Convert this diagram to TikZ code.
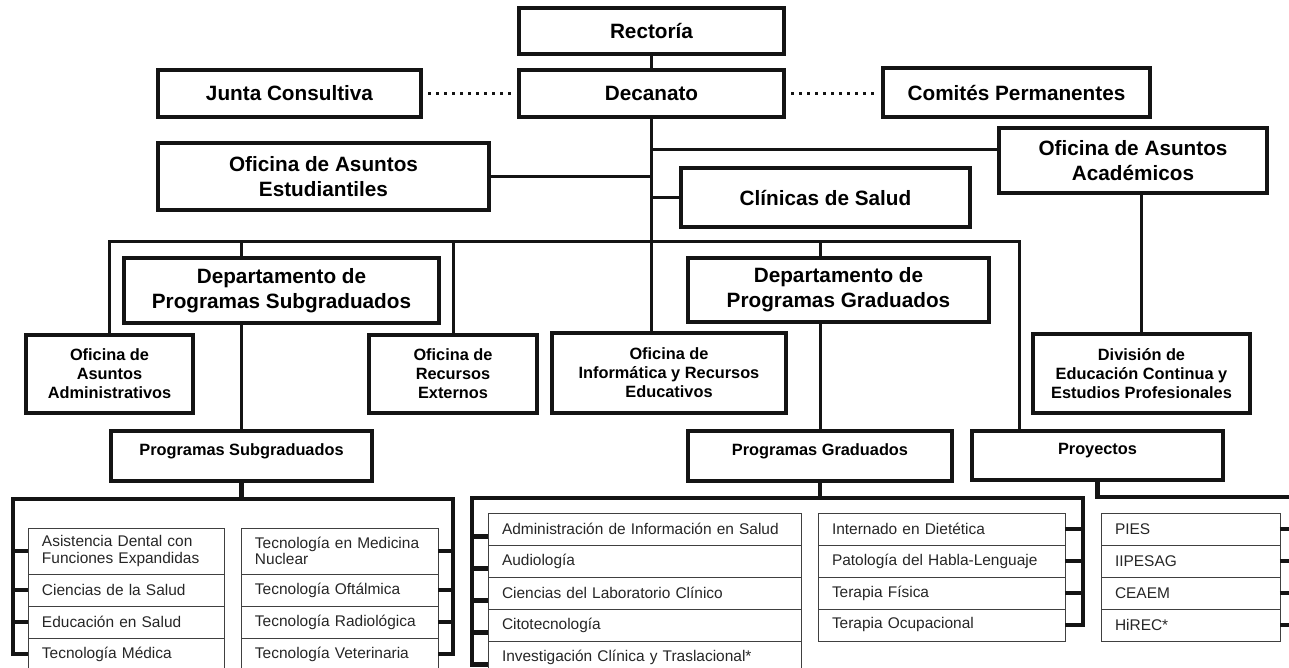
\documentclass[tikz,border=0pt]{standalone}
\usepackage{fontspec}
\setmainfont{Liberation Sans}
\usetikzlibrary{positioning}
\definecolor{boxline}{gray}{0.08}
\definecolor{cellline}{gray}{0.25}
\definecolor{celltext}{gray}{0.15}

\newcommand{\bigfont}{\bfseries\fontsize{11.8}{14.2}\selectfont}
\newcommand{\smallfont}{\bfseries\fontsize{9.3}{10.8}\selectfont}
\newcommand{\cellfont}{\fontsize{8.8}{9.4}\selectfont}

\begin{document}
\begin{tikzpicture}[x=0.02cm, y=-0.02cm,
		unit/.style={draw=boxline, line width=0.09cm, align=center, inner sep=0pt, font=\bigfont},
		office/.style={unit, font=\smallfont},
		program/.style={unit, font=\smallfont, text depth=0.25cm},
		link/.style={draw=boxline, line width=0.06cm},
		bracket/.style={draw=boxline, line width=0.09cm},
		dots/.style={draw=boxline, line width=0.06cm, dash pattern=on 0.06cm off 0.1cm, shorten <=0.1cm, shorten >=0.1cm},
		cell/.style={draw=cellline, line width=0.5pt, outer sep=0pt, inner xsep=0.28cm, inner ysep=1pt, align=left, text=celltext, font=\cellfont, minimum height=0.64cm}]

			\clip (0,0) rectangle (1289,667);

			% direccion
			\node[unit, minimum width=5.30cm, minimum height=0.92cm] (rect) at (651.5,31) {Rectoría};
			\node[unit, minimum width=5.30cm, minimum height=0.94cm] (dec) at (651.5,93.5) {Decanato};
			\node[unit, minimum width=5.26cm, minimum height=0.94cm] (junta) at (289.5,93.5) {Junta Consultiva};
			\node[unit, minimum width=5.34cm, minimum height=0.98cm] (comites) at (1016.5,92.5) {Comités Permanentes};

			\node[unit, minimum width=6.62cm, minimum height=1.34cm] (oae) at (323.5,176.5) {Oficina de Asuntos\\Estudiantiles};
			\node[unit, minimum width=5.36cm, minimum height=1.30cm] (oaa) at (1133,160.5) {Oficina de Asuntos\\Académicos};
			\node[unit, minimum width=5.78cm, minimum height=1.18cm] (clin) at (825.5,197.5) {Clínicas de Salud};

			% departamentos y oficinas
			\node[unit, minimum width=6.30cm, minimum height=1.30cm] (dps) at (281.5,290.5) {Departamento de\\Programas Subgraduados};
			\node[unit, minimum width=6.02cm, minimum height=1.28cm] (dpg) at (838.5,290) {Departamento de\\Programas Graduados};
			\node[office, minimum width=3.34cm, minimum height=1.56cm] (oadm) at (109.5,374) {Oficina de\\Asuntos\\Administrativos};
			\node[office, minimum width=3.36cm, minimum height=1.56cm] (ore) at (453,374) {Oficina de\\Recursos\\Externos};
			\node[office, minimum width=4.68cm, minimum height=1.60cm] (oire) at (669,373) {Oficina de\\Informática y Recursos\\Educativos};
			\node[office, minimum width=4.34cm, minimum height=1.58cm] (div) at (1141.5,373.5) {División de\\Educación Continua y\\Estudios Profesionales};

			\node[program, minimum width=5.22cm, minimum height=1.00cm] (psub) at (241.5,456) {Programas Subgraduados};
			\node[program, minimum width=5.28cm, minimum height=1.00cm] (pgrad) at (820,456) {Programas Graduados};
			\node[program, minimum width=5.02cm, minimum height=0.98cm] (proy) at (1097.5,455.5) {Proyectos};

			% listas de programas
			\node[cell, text width=3.36cm, minimum height=0.92cm, anchor=north west] (ua1) at (28,528) {Asistencia Dental con\\Funciones Expandidas};
			\node[cell, text width=3.36cm, below=0pt of ua1] (ua2) {Ciencias de la Salud};
			\node[cell, text width=3.36cm, below=0pt of ua2] (ua3) {Educación en Salud};
			\node[cell, text width=3.36cm, below=0pt of ua3] (ua4) {Tecnología Médica};

			\node[cell, text width=3.38cm, minimum height=0.92cm, anchor=north west] (ub1) at (241,528) {Tecnología en Medicina\\Nuclear};
			\node[cell, text width=3.38cm, below=0pt of ub1] (ub2) {Tecnología Oftálmica};
			\node[cell, text width=3.38cm, below=0pt of ub2] (ub3) {Tecnología Radiológica};
			\node[cell, text width=3.38cm, below=0pt of ub3] (ub4) {Tecnología Veterinaria};

			\node[cell, text width=5.70cm, anchor=north west] (ga1) at (488,513) {Administración de Información en Salud};
			\node[cell, text width=5.70cm, below=0pt of ga1] (ga2) {Audiología};
			\node[cell, text width=5.70cm, below=0pt of ga2] (ga3) {Ciencias del Laboratorio Clínico};
			\node[cell, text width=5.70cm, below=0pt of ga3] (ga4) {Citotecnología};
			\node[cell, text width=5.70cm, below=0pt of ga4] (ga5) {Investigación Clínica y Traslacional*};

			\node[cell, text width=4.38cm, anchor=north west] (gb1) at (818,513) {Internado en Dietética};
			\node[cell, text width=4.38cm, below=0pt of gb1] (gb2) {Patología del Habla-Lenguaje};
			\node[cell, text width=4.38cm, below=0pt of gb2] (gb3) {Terapia Física};
			\node[cell, text width=4.38cm, below=0pt of gb3] (gb4) {Terapia Ocupacional};

			\node[cell, text width=3.02cm, anchor=north west] (pc1) at (1101,513) {PIES};
			\node[cell, text width=3.02cm, below=0pt of pc1] (pc2) {IIPESAG};
			\node[cell, text width=3.02cm, below=0pt of pc2] (pc3) {CEAEM};
			\node[cell, text width=3.02cm, below=0pt of pc3] (pc4) {HiREC*};

			\coordinate (barr) at (1019,241);
			\coordinate (subl) at (13,499);
			\coordinate (subr) at (453,499);
			\coordinate (gradl) at (472,498);
			\coordinate (gradr) at (1083,498);
			\coordinate (proyr) at (1300,497);

			% conexiones
			\draw[link] (rect) -- (dec);
			\draw[dots] (junta) -- (dec);
			\draw[dots] (dec.east) -- (dec.east -| comites.west);
			\draw[link] (dec.south) -- (dec.south |- oire.north);
			\draw[link] (oae.east) -- (oae.east -| dec.south);
			\draw[link] ([yshift=0.22cm]oaa.west) -- ([yshift=0.22cm]oaa.west -| dec.south);
			\draw[link] (clin.west) -- (clin.west -| dec.south);
			\draw[link] (oadm.north) |- (barr) -- (barr |- proy.north);
			\draw[link] (psub.north |- dps.north) -- (psub.north |- barr);
			\draw[link] (psub.north) -- (psub.north |- dps.south);
			\draw[link] (ore.north) -- (ore.north |- barr);
			\draw[link] (pgrad.north |- dpg.north) -- (pgrad.north |- barr);
			\draw[link] (pgrad.north) -- (pgrad.north |- dpg.south);
			\draw[link] (div.north) -- (div.north |- oaa.south);

			\draw[bracket] (psub.south) -- (psub.south |- subl);
			\draw[bracket] (ua4.west) -| (subl) -- (subr) |- (ub4.east);
			\foreach \c in {ua1,ua2,ua3} \draw[bracket] (\c.west) -- (\c.west -| subl);
			\foreach \c in {ub1,ub2,ub3} \draw[bracket] (\c.east) -- (\c.east -| subr);

			\draw[bracket] (pgrad.south) -- (pgrad.south |- gradl);
			\draw[bracket] ([yshift=-0.15cm]ga5.west) -| (gradl) -- (gradr) |- (gb4.east);
			\foreach \c in {ga1,ga2,ga3,ga4} \draw[bracket] ([yshift=-0.15cm]\c.west) -- ([yshift=-0.15cm]\c.west -| gradl);
			\foreach \c in {gb1,gb2,gb3} \draw[bracket] (\c.east) -- (\c.east -| gradr);

			\draw[bracket] (proy.south) |- (proyr) |- (pc4.east);
			\foreach \c in {pc1,pc2,pc3} \draw[bracket] (\c.east) -- (\c.east -| proyr);

		\end{tikzpicture}
\end{document}
